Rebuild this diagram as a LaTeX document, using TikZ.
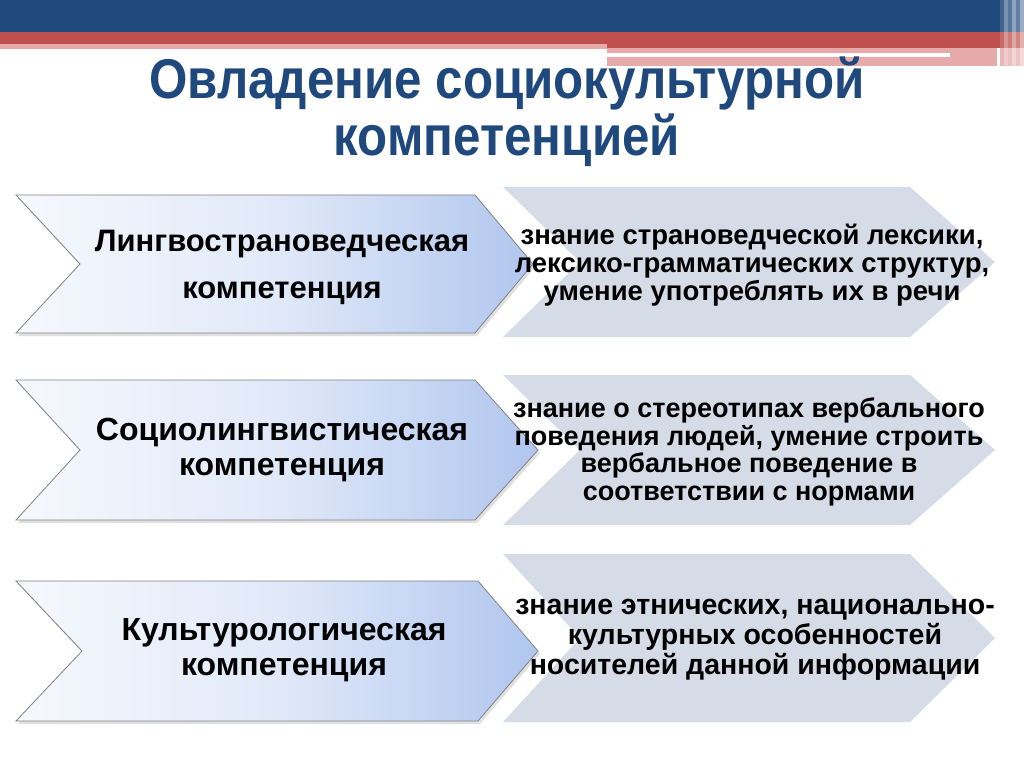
\documentclass[tikz,border=0pt]{standalone}
\usepackage{fontspec}
\setmainfont{Liberation Sans}
\newfontfamily\titlefont[FakeStretch=0.88]{Liberation Sans}
\definecolor{topblue}{RGB}{31,73,125}
\definecolor{topred}{RGB}{192,80,77}
\definecolor{toppink}{RGB}{230,170,170}
\definecolor{titleblue}{RGB}{31,73,125}
\definecolor{chevL}{RGB}{246,248,253}
\definecolor{chevR}{RGB}{176,198,238}
\definecolor{greychev}{RGB}{214,220,231}
\definecolor{chevborder}{RGB}{130,130,130}
\tikzset{
  leftchev/.style={draw=chevborder, line width=0.8pt, left color=chevL, right color=chevR, middle color=chevL!70!chevR},
  chevshadow/.style={fill=black, opacity=0.12, draw=none},
  rightchev/.style={fill=greychev, draw=none},
  lefttext/.style={font=\bfseries\fontsize{32}{35}\selectfont, align=center, text=black},
  righttext/.style={font=\bfseries\fontsize{27.5}{28}\selectfont, align=center, text=black},
}
\begin{document}
\begin{tikzpicture}[x=1pt,y=-1pt]
\useasboundingbox (0,0) rectangle (1024,767);
\fill[white] (0,0) rectangle (1024,767);
% top bands
\fill[topblue] (0,0) rectangle (1000,32);
\fill[topred] (0,32) rectangle (1000,44);
\fill[toppink] (0,44) rectangle (607,49);
\fill[topred] (607,44) rectangle (1000,48);
\fill[toppink] (607,48) rectangle (997,66);
\fill[white] (607,53) rectangle (950,57);
% faded stripes at right edge
\foreach \xx/\op in {1000/0.85,1004/0.6,1008/0.75,1012/0.5,1016/0.7,1020/0.45}{
  \fill[topblue,opacity=\op] (\xx,0) rectangle ++(4,32);
  \fill[topred,opacity=\op] (\xx,32) rectangle ++(4,16);
  \fill[toppink,opacity=\op] (\xx,48) rectangle ++(4,18);
}
% title
\node[font=\titlefont\bfseries\fontsize{56}{57}\selectfont, text=titleblue, align=center] (title) at (507,112)
  {Овладение социокультурной\\компетенцией};
% right chevrons
\fill[rightchev] (503,187) -- (910,187) -- (995,262) -- (910,337) -- (503,337) -- (580,262) -- cycle;
\fill[rightchev] (503,375) -- (910,375) -- (995,450) -- (910,525) -- (503,525) -- (580,450) -- cycle;
\fill[rightchev] (503,554) -- (910,554) -- (995,638) -- (910,722) -- (503,722) -- (580,638) -- cycle;
% left chevron shadows
\fill[chevshadow] (18,198) -- (477,198) -- (535,267) -- (477,336) -- (18,336) -- (82,267) -- cycle;
\fill[chevshadow] (18,383) -- (477,383) -- (540,453) -- (477,523) -- (18,523) -- (82,453) -- cycle;
\fill[chevshadow] (18,584) -- (480,584) -- (540,654) -- (480,724) -- (18,724) -- (84,654) -- cycle;
% left chevrons
\path[leftchev] (16,195) -- (475,195) -- (533,264) -- (475,333) -- (16,333) -- (80,264) -- cycle;
\path[leftchev] (16,380) -- (475,380) -- (538,450) -- (475,520) -- (16,520) -- (80,450) -- cycle;
\path[leftchev] (16,581) -- (478,581) -- (538,651) -- (478,721) -- (16,721) -- (82,651) -- cycle;
% left texts
\node[lefttext, font=\bfseries\fontsize{31}{47}\selectfont] (l1) at (282,267) {Лингвострановедческая\\компетенция};
\node[lefttext] (l2) at (282,450) {Социолингвистическая\\компетенция};
\node[lefttext] (l3) at (284,650) {Культурологическая\\компетенция};
% right texts
\node[righttext] (r1) at (752,265) {знание страноведческой лексики,\\лексико-грамматических структур,\\умение употреблять их в речи};
\node[righttext, font=\bfseries\fontsize{27}{27.7}\selectfont] (r2) at (749,452) {знание о стереотипах вербального\\поведения людей, умение строить\\вербальное поведение в\\соответствии с нормами};
\node[righttext, font=\bfseries\fontsize{28.5}{30}\selectfont] (r3) at (755,640) {знание этнических, национально-\\культурных особенностей\\носителей данной информации};
\end{tikzpicture}
\end{document}
